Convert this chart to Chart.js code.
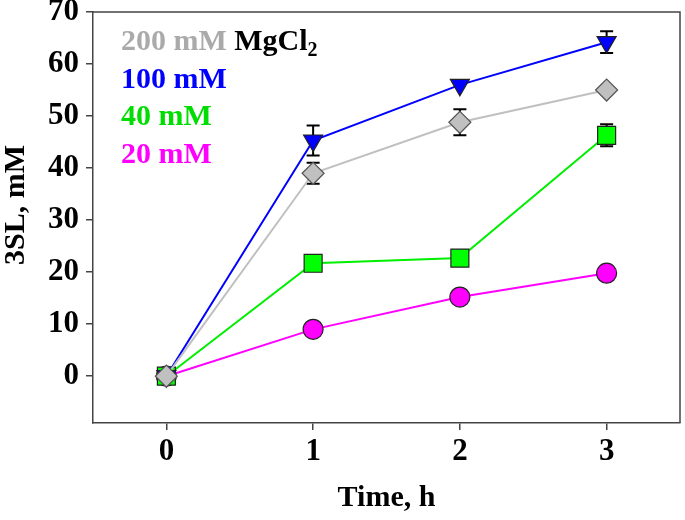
<!DOCTYPE html>
<html>
<head>
<meta charset="utf-8">
<script src="https://cdn.jsdelivr.net/npm/chart.js@4.4.0/dist/chart.umd.min.js"></script>
<style>
  html, body { margin: 0; padding: 0; background: #fff; overflow: hidden; }
  canvas { display: block; }
</style>
</head>
<body>
<canvas id="grafico" width="685" height="520"></canvas>
<script>
const tempos = [0, 1, 2, 3];
const xTicks = [0, 1, 2, 3];
const yTicks = [0, 10, 20, 30, 40, 50, 60, 70];

const mg200 = [0, 39, 48.8, 55];
const mg200Err = [0, 2, 2.5, 0];
const mg100 = [0, 45.3, 56, 64.2];
const mg100Err = [0, 2.9, 0, 2.1];
const mg40 = [0, 21.7, 22.7, 46.3];
const mg40Err = [0, 0, 0, 2.1];
const mg20 = [0, 9, 15.2, 19.8];
const mg20Err = [0, 0, 0, 0];

const legendas = ['200 mM', '100 mM', '40 mM', '20 mM'];
const coresTexto = ['#aaaaaa', '#0000ff', '#00dd00', '#ff00ff'];

const serif = '"Liberation Serif", "Times New Roman", serif';

function pontos(ys) {
  return tempos.map((t, i) => ({ x: t, y: ys[i] }));
}

function serie(label, ys, erros, linha, fundo, estilo, raio, rot) {
  return {
    label: label,
    data: pontos(ys),
    erros: erros,
    borderColor: linha,
    borderWidth: 2,
    pointStyle: estilo,
    pointRadius: raio,
    pointRotation: rot,
    pointBackgroundColor: fundo,
    pointBorderColor: estilo === 'rectRot' ? '#555555' : '#222222',
    pointBorderWidth: 1.2,
    tension: 0
  };
}

// barras de erro + moldura + legenda em texto + titulo do eixo y
const extras = {
  id: 'extras',
  beforeDatasetsDraw(chart) {
    const ctx = chart.ctx;
    const xs = chart.scales.x, ys = chart.scales.y;
    ctx.save();
    ctx.strokeStyle = '#000';
    ctx.lineWidth = 2;
    chart.data.datasets.forEach(ds => {
      ds.data.forEach((p, i) => {
        const e = ds.erros[i];
        if (!e) return;
        const px = xs.getPixelForValue(p.x);
        const top = ys.getPixelForValue(p.y + e);
        const bot = ys.getPixelForValue(p.y - e);
        ctx.beginPath();
        ctx.moveTo(px, top); ctx.lineTo(px, bot);
        ctx.moveTo(px - 6.5, top); ctx.lineTo(px + 6.5, top);
        ctx.moveTo(px - 6.5, bot); ctx.lineTo(px + 6.5, bot);
        ctx.stroke();
      });
    });
    ctx.restore();
  },
  afterDraw(chart) {
    const ctx = chart.ctx;
    const a = chart.chartArea;
    ctx.save();
    ctx.strokeStyle = '#444';
    ctx.lineWidth = 1.5;
    ctx.beginPath();
    ctx.moveTo(a.left, a.top); ctx.lineTo(a.right, a.top); ctx.lineTo(a.right, a.bottom);
    ctx.stroke();

    // titulo do eixo y
    ctx.save();
    ctx.translate(16, 205);
    ctx.rotate(-Math.PI / 2);
    ctx.fillStyle = '#000';
    ctx.font = 'bold 30px ' + serif;
    ctx.textAlign = 'center';
    ctx.textBaseline = 'middle';
    ctx.fillText('3SL, mM', 0, 0);
    ctx.restore();

    ctx.font = 'bold 30px ' + serif;
    ctx.textBaseline = 'alphabetic';
    const x0 = a.left + 28;
    legendas.forEach((txt, i) => {
      const y = a.top + 38 + i * 37.5;
      ctx.fillStyle = coresTexto[i];
      ctx.fillText(txt, x0, y);
      if (i === 0) {
        const w = ctx.measureText(txt + ' ').width;
        ctx.fillStyle = '#000';
        ctx.fillText('MgCl', x0 + w, y);
        const w2 = ctx.measureText('MgCl').width;
        ctx.font = 'bold 20px ' + serif;
        ctx.fillText('2', x0 + w + w2, y + 6);
        ctx.font = 'bold 30px ' + serif;
      }
    });
    ctx.restore();
  }
};

const ctx = document.getElementById('grafico').getContext('2d');

new Chart(ctx, {
  type: 'line',
  data: {
    datasets: [
      serie('200 mM', mg200, mg200Err, '#c0c0c0', '#c0c0c0', 'rectRot', 11, 0),
      serie('100 mM', mg100, mg100Err, '#0000ff', '#0000ff', 'triangle', 11, 180),
      serie('40 mM', mg40, mg40Err, '#00ee00', '#00ff00', 'rect', 12.7, 0),
      serie('20 mM', mg20, mg20Err, '#ff00ff', '#ff00ff', 'circle', 10, 0)
    ]
  },
  options: {
    responsive: false,
    animation: false,
    layout: { autoPadding: false, padding: { top: 12, right: 5, left: 0, bottom: 0 } },
    plugins: {
      legend: { display: false },
      tooltip: { enabled: false }
    },
    scales: {
      x: {
        type: 'linear',
        min: -0.5,
        max: 3.5,
        afterBuildTicks: axis => { axis.ticks = xTicks.map(v => ({ value: v })); },
        afterFit: scale => {
          scale.height = 97;
          scale.paddingLeft = 0;
          scale.paddingRight = 0;
        },
        ticks: {
          color: '#000',
          font: { family: serif, size: 31, weight: 'bold' },
          padding: 3
        },
        grid: { drawOnChartArea: false, drawTicks: true, tickLength: 7, color: '#444', lineWidth: 1.5 },
        border: { display: true, color: '#444', width: 1.5 },
        title: {
          display: true,
          text: 'Time, h',
          color: '#000',
          font: { family: serif, size: 30, weight: 'bold' },
          padding: { top: 0, bottom: 4 }
        }
      },
      y: {
        min: -9,
        max: 70,
        afterBuildTicks: axis => { axis.ticks = yTicks.map(v => ({ value: v })); },
        afterFit: scale => {
          scale.width = 93;
          scale.paddingTop = 0;
          scale.paddingBottom = 0;
        },
        ticks: {
          color: '#000',
          font: { family: serif, size: 31, weight: 'bold' },
          padding: 7
        },
        grid: { drawOnChartArea: false, drawTicks: true, tickLength: 7, color: '#444', lineWidth: 1.5 },
        border: { display: true, color: '#444', width: 1.5 },
        title: { display: false }
      }
    }
  },
  plugins: [extras]
});
</script>
</body>
</html>
